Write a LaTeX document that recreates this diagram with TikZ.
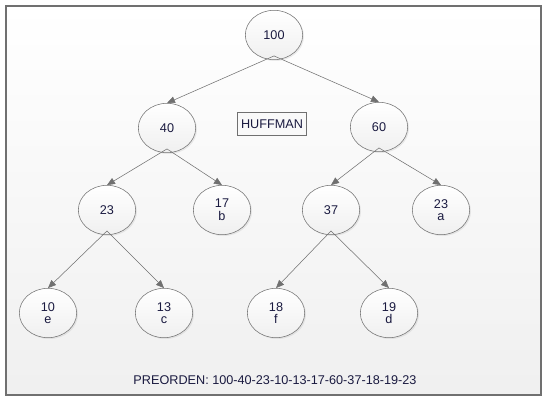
\documentclass[tikz,border=0pt]{standalone}
\usepackage{fontspec}
\setmainfont{Liberation Sans}
\usetikzlibrary{shapes.geometric,shadows,arrows.meta}
\definecolor{txtblue}{HTML}{1A1A40}
\definecolor{edgegray}{HTML}{707070}
\begin{document}
\begin{tikzpicture}[x=0.75pt, y=-0.75pt,
    knot/.style={ellipse, draw=edgegray, top color=white, bottom color=gray!12,
        minimum width=43pt, minimum height=37pt, inner sep=0pt,
        drop shadow={opacity=0.15, shadow xshift=1pt, shadow yshift=-1pt},
        font=\fontsize{9.5}{9.5}\selectfont, text=txtblue, align=center},
    branch/.style={draw=edgegray, -{Triangle[length=6pt, width=5pt, fill=edgegray]}}]
    \useasboundingbox (0,0) rectangle (548,402);
    \draw[edgegray, thick, top color=white, bottom color=gray!12] (6,6) rectangle (541,395);
    \node[knot] (n100) at (274,35) {100};
    \node[knot] (n40) at (167,128) {40};
    \node[knot] (n60) at (379,127) {60};
    \node[knot] (n23) at (107,210) {23};
    \node[knot] (n17) at (222,210) {17\\b};
    \node[knot] (n37) at (331,210) {37};
    \node[knot] (n23a) at (441,210) {23\\a};
    \node[knot] (n10) at (48,313) {10\\e};
    \node[knot] (n13) at (164,313) {13\\c};
    \node[knot] (n18) at (276,313) {18\\f};
    \node[knot] (n19) at (389,313) {19\\d};
    \node[draw=edgegray, fill=gray!5, font=\fontsize{9.5}{9.5}\selectfont, text=txtblue,
        minimum width=52pt, minimum height=17pt, inner sep=1pt] (title) at (272,124) {HUFFMAN};
    \foreach \a/\b in {n100/n40, n100/n60, n40/n23, n40/n17, n60/n37, n60/n23a,
                       n23/n10, n23/n13, n37/n18, n37/n19}{
        \draw[branch] ([yshift=3pt]\a.south) -- (\b.north);
    }
    \node[font=\fontsize{9.5}{9.5}\selectfont, text=txtblue] (preorden) at (275,380)
        {PREORDEN: 100-40-23-10-13-17-60-37-18-19-23};
\end{tikzpicture}
\end{document}
